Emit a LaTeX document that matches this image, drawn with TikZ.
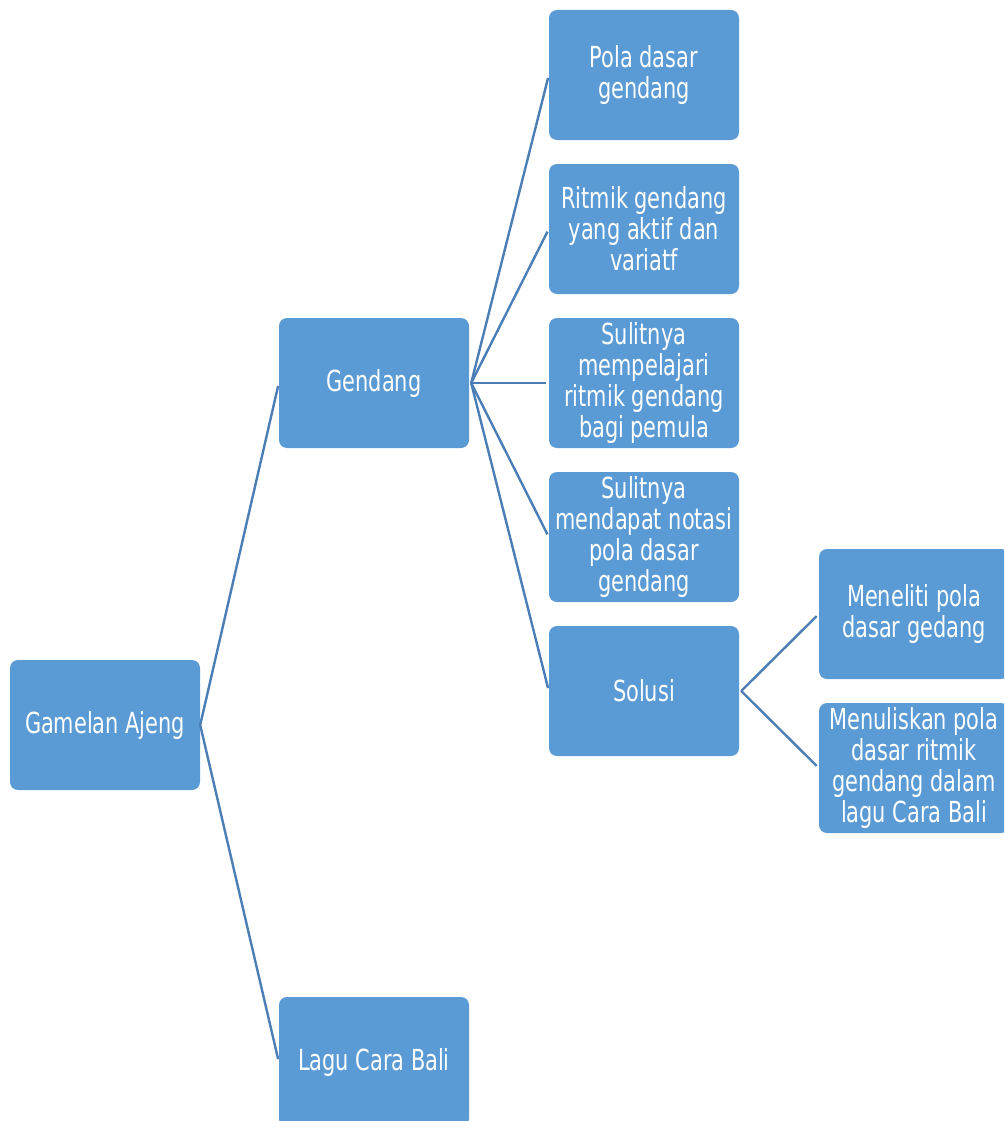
\documentclass[tikz,border=0pt]{standalone}
\usepackage{fontspec}
\setmainfont{DejaVu Sans Condensed}[FakeStretch=0.8]
\usepackage{xcolor}
\definecolor{boxblue}{HTML}{5B9BD5}
\definecolor{lineblue}{HTML}{4A7EB5}

\begin{document}
\begin{tikzpicture}[x=1pt,y=-1pt,
		kotak/.style={fill=boxblue, rounded corners=8pt, minimum width=190pt, minimum height=130pt,
			inner sep=0pt, text=white, align=center, font=\fontsize{29}{31}\selectfont},
		garis/.style={lineblue, line width=2.4pt, shorten >=3pt}]
		\useasboundingbox (0,0) rectangle (1004,1121);
		\clip (0,0) rectangle (1004,1121);

		% Kotak
		\node[kotak] (gamelan) at (105,725) {Gamelan Ajeng};
		\node[kotak] (gendang) at (374,383) {Gendang};
		\node[kotak] (lagu) at (374,1062) {Lagu Cara Bali};

		\node[kotak] (pola) at (644,75) {Pola dasar\\gendang};
		\node[kotak] (ritmik) at (644,229) {Ritmik gendang\\yang aktif dan\\variatf};
		\node[kotak] (sulit1) at (644,383) {Sulitnya\\mempelajari\\ritmik gendang\\bagi pemula};
		\node[kotak] (sulit2) at (644,537) {Sulitnya\\mendapat notasi\\pola dasar\\gendang};
		\node[kotak] (solusi) at (644,691) {Solusi};

		\node[kotak] (meneliti) at (914,614) {Meneliti pola\\dasar gedang};
		\node[kotak] (menulis) at (914,768) {Menuliskan pola\\dasar ritmik\\gendang dalam\\lagu Cara Bali};

		% Garis
		\draw[garis] (gamelan.east) -- (gendang.west);
		\draw[garis] (gamelan.east) -- (lagu.west);
		\foreach \anak in {pola,ritmik,sulit1,sulit2,solusi}
			\draw[garis] ([xshift=2pt]gendang.east) -- (\anak.west);
		\draw[garis] ([xshift=2pt]solusi.east) -- (meneliti.west);
		\draw[garis] ([xshift=2pt]solusi.east) -- (menulis.west);
	\end{tikzpicture}
\end{document}
